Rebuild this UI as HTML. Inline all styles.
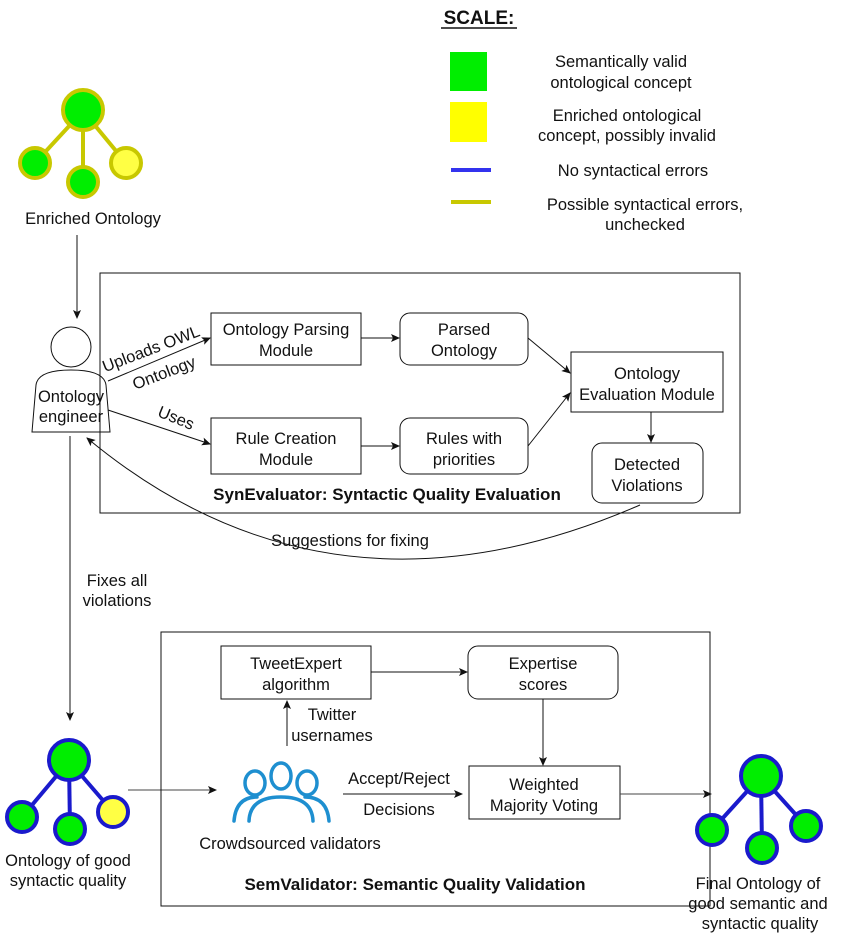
<!DOCTYPE html>
<html><head><meta charset="utf-8"><style>
html,body{margin:0;padding:0;background:#fff;}
svg{display:block;font-family:"Liberation Sans",Arial,sans-serif;}
text{font-size:16.5px;fill:#111;}
</style></head><body>
<svg width="841" height="936" viewBox="0 0 841 936" xmlns="http://www.w3.org/2000/svg">
<defs>
<marker id="a" markerWidth="10" markerHeight="10" refX="8" refY="4" orient="auto" markerUnits="userSpaceOnUse">
<path d="M0,0 L9,4 L0,8 L2,4 z" fill="#111"/></marker>
</defs>

<!-- Legend -->
<text x="479" y="24" text-anchor="middle" style="font-size:19px;font-weight:bold">SCALE:</text>
<line x1="441" y1="28" x2="517" y2="28" stroke="#111" stroke-width="1.5"/>
<rect x="450" y="52" width="37" height="39" fill="#00ee00"/>
<rect x="450" y="102" width="37" height="40" fill="#ffff00"/>
<line x1="451" y1="170" x2="491" y2="170" stroke="#3333ee" stroke-width="4"/>
<line x1="451" y1="202" x2="491" y2="202" stroke="#c8c800" stroke-width="4"/>
<g text-anchor="middle">
<text x="621" y="67">Semantically valid</text>
<text x="621" y="88">ontological concept</text>
<text x="627" y="121">Enriched ontological</text>
<text x="627" y="141">concept, possibly invalid</text>
<text x="633" y="176">No syntactical errors</text>
<text x="645" y="210">Possible syntactical errors,</text>
<text x="645" y="230">unchecked</text>
</g>

<!-- Enriched ontology -->
<g stroke="#c8c800" stroke-width="4">
<line x1="83" y1="111" x2="35" y2="163"/><line x1="83" y1="111" x2="83" y2="181"/><line x1="83" y1="111" x2="126" y2="163"/>
<circle cx="83" cy="110" r="20" fill="#00ee00"/>
<circle cx="35" cy="163" r="15" fill="#00ee00"/>
<circle cx="83" cy="182" r="15" fill="#00ee00"/>
<circle cx="126" cy="163" r="15" fill="#ffff44"/>
</g>
<text x="93" y="224" text-anchor="middle">Enriched Ontology</text>
<line x1="77" y1="235" x2="77" y2="318" stroke="#111" marker-end="url(#a)"/>

<!-- Person -->
<circle cx="71" cy="347" r="20" fill="#fff" stroke="#111"/>
<path d="M32,432 L36,385 Q38,370 71,370 Q104,370 106,385 L110,432 Z" fill="#fff" stroke="#111"/>
<text x="71" y="402" text-anchor="middle">Ontology</text>
<text x="71" y="422" text-anchor="middle">engineer</text>

<!-- SynEvaluator -->
<rect x="100" y="273" width="640" height="240" fill="none" stroke="#111"/>
<text x="387" y="500" text-anchor="middle" style="font-weight:bold;font-size:17px">SynEvaluator: Syntactic Quality Evaluation</text>
<g fill="#fff" stroke="#111">
<rect x="211" y="313" width="150" height="52"/>
<rect x="400" y="313" width="128" height="52" rx="10"/>
<rect x="571" y="352" width="152" height="60"/>
<rect x="211" y="418" width="150" height="56"/>
<rect x="400" y="418" width="128" height="56" rx="10"/>
<rect x="592" y="443" width="111" height="60" rx="10"/>
</g>
<g text-anchor="middle">
<text x="286" y="335">Ontology Parsing</text><text x="286" y="356">Module</text>
<text x="464" y="335">Parsed</text><text x="464" y="356">Ontology</text>
<text x="647" y="379">Ontology</text><text x="647" y="400">Evaluation Module</text>
<text x="286" y="444">Rule Creation</text><text x="286" y="465">Module</text>
<text x="464" y="444">Rules with</text><text x="464" y="465">priorities</text>
<text x="647" y="470">Detected</text><text x="647" y="491">Violations</text>
</g>
<g stroke="#111" fill="none" marker-end="url(#a)">
<line x1="108" y1="381" x2="210" y2="338"/>
<line x1="108" y1="410" x2="210" y2="444"/>
<line x1="361" y1="338" x2="399" y2="338"/>
<line x1="361" y1="446" x2="399" y2="446"/>
<line x1="528" y1="338" x2="570" y2="373"/>
<line x1="528" y1="446" x2="570" y2="393"/>
<line x1="651" y1="412" x2="651" y2="442"/>
<path d="M640,505 Q330,640 87,438"/>
</g>
<text transform="translate(153,354) rotate(-21)" text-anchor="middle">Uploads OWL</text>
<text transform="translate(166,378) rotate(-21)" text-anchor="middle">Ontology</text>
<text transform="translate(174,423) rotate(22)" text-anchor="middle">Uses</text>
<text x="350" y="546" text-anchor="middle">Suggestions for fixing</text>

<!-- Fixes -->
<line x1="70" y1="436" x2="70" y2="720" stroke="#111" marker-end="url(#a)"/>
<text x="117" y="586" text-anchor="middle">Fixes all</text>
<text x="117" y="606" text-anchor="middle">violations</text>

<!-- Good syntactic ontology -->
<g stroke="#1a1acc" stroke-width="4">
<line x1="69" y1="761" x2="22" y2="817"/><line x1="69" y1="761" x2="70" y2="829"/><line x1="69" y1="761" x2="113" y2="812"/>
<circle cx="69" cy="760" r="20" fill="#00ee00"/>
<circle cx="22" cy="817" r="15" fill="#00ee00"/>
<circle cx="70" cy="829" r="15" fill="#00ee00"/>
<circle cx="113" cy="812" r="15" fill="#ffff44"/>
</g>
<text x="68" y="866" text-anchor="middle">Ontology of good</text>
<text x="68" y="886" text-anchor="middle">syntactic quality</text>
<line x1="128" y1="790" x2="216" y2="790" stroke="#444" marker-end="url(#a)"/>

<!-- SemValidator -->
<rect x="161" y="632" width="549" height="274" fill="none" stroke="#111"/>
<text x="415" y="890" text-anchor="middle" style="font-weight:bold;font-size:17px">SemValidator: Semantic Quality Validation</text>
<g fill="#fff" stroke="#111">
<rect x="221" y="646" width="150" height="53"/>
<rect x="468" y="646" width="150" height="53" rx="10"/>
<rect x="469" y="766" width="151" height="53"/>
</g>
<g text-anchor="middle">
<text x="296" y="669">TweetExpert</text><text x="296" y="690">algorithm</text>
<text x="543" y="669">Expertise</text><text x="543" y="690">scores</text>
<text x="544" y="790">Weighted</text><text x="544" y="811">Majority Voting</text>
<text x="332" y="720">Twitter</text><text x="332" y="741">usernames</text>
<text x="399" y="784">Accept/Reject</text><text x="399" y="815">Decisions</text>
<text x="290" y="849">Crowdsourced validators</text>
</g>
<g stroke="#111" fill="none" marker-end="url(#a)">
<line x1="371" y1="672" x2="467" y2="672"/>
<line x1="287" y1="746" x2="287" y2="701"/>
<line x1="543" y1="699" x2="543" y2="765"/>
<line x1="343" y1="794" x2="462" y2="794"/>
<line x1="620" y1="794" x2="711" y2="794" stroke="#444"/>
</g>
<!-- crowd icon -->
<g stroke="#1e8fd0" stroke-width="3.5" fill="none" stroke-linecap="round">
<ellipse cx="255" cy="783" rx="10" ry="12"/>
<ellipse cx="281" cy="776" rx="10" ry="13"/>
<ellipse cx="307" cy="783" rx="10" ry="12"/>
<path d="M234,821 Q236,797 257,797"/>
<path d="M329,821 Q327,797 305,797"/>
<path d="M249,821 Q250,797 281,797 Q312,797 313,821"/>
</g>

<!-- Final ontology -->
<g stroke="#1a1acc" stroke-width="4">
<line x1="761" y1="776" x2="712" y2="830"/><line x1="761" y1="776" x2="762" y2="848"/><line x1="761" y1="776" x2="806" y2="826"/>
<circle cx="761" cy="776" r="20" fill="#00ee00"/>
<circle cx="712" cy="830" r="15" fill="#00ee00"/>
<circle cx="762" cy="848" r="15" fill="#00ee00"/>
<circle cx="806" cy="826" r="15" fill="#00ee00"/>
</g>
<text x="758" y="889" text-anchor="middle">Final Ontology of</text>
<text x="758" y="909" text-anchor="middle">good semantic and</text>
<text x="760" y="929" text-anchor="middle">syntactic quality</text>
</svg>
</body></html>
